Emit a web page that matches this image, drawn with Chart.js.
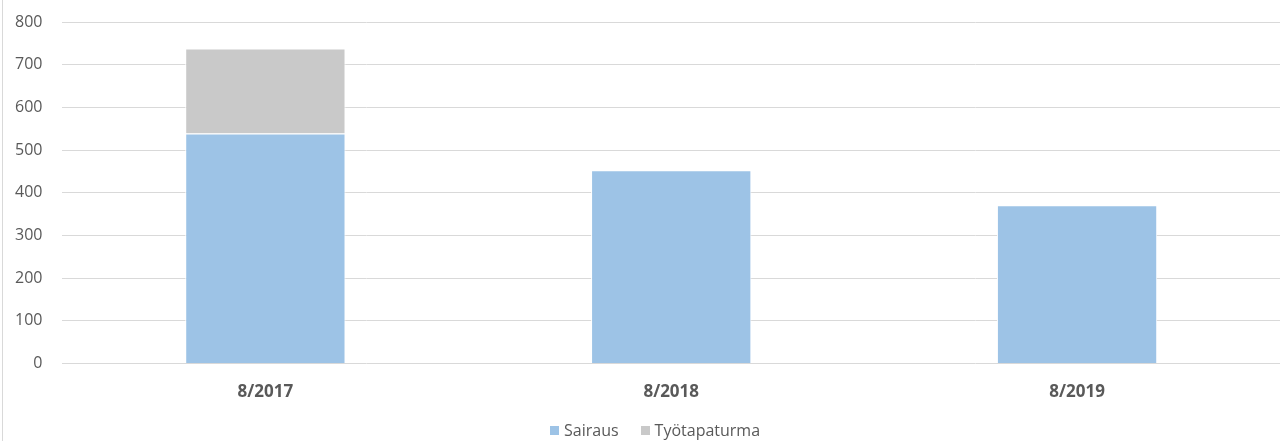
<!DOCTYPE html>
<html>
<head>
<meta charset="utf-8">
<script src="https://cdn.jsdelivr.net/npm/chart.js@4"></script>
<style>
  html, body { margin: 0; padding: 0; background: #fff; }
  #wrap { position: relative; width: 1280px; height: 441px; }
  #wrap::before { content: ""; position: absolute; left: 2px; top: 0; bottom: 0; border-left: 1px solid #d9d9d9; }
  #legend { position: absolute; left: 550px; top: 420px; height: 20px; display: flex; align-items: center;
            font-family: "Open Sans", "Noto Sans", sans-serif; font-size: 16px; color: #595959; }
  #legend .item { display: flex; align-items: center; margin-right: 22px; }
  #legend .box { width: 9px; height: 9px; margin-right: 5px; }
</style>
</head>
<body>
<div id="wrap"><canvas id="chart"></canvas><div id="legend"></div></div>
<script>
// chart values
const categories = ['8/2017', '8/2018', '8/2019'];
const sairaus = [539, 453, 371];
const tyotapaturma = [199, 0, 0];
const yTicks = [0, 100, 200, 300, 400, 500, 600, 700, 800];

const textColor = '#595959';
const fontFamily = '"Open Sans", "Noto Sans", sans-serif';

document.addEventListener('DOMContentLoaded', function() {
    const ctx = document.getElementById('chart').getContext('2d');

    const chart = new Chart(ctx, {
        type: 'bar',
        data: {
            labels: categories,
            datasets: [{
                label: 'Sairaus',
                data: sairaus,
                backgroundColor: '#9dc3e6',
                borderColor: '#ffffff',
                borderWidth: 1,
                barPercentage: 0.395,
                categoryPercentage: 1
            }, {
                label: 'Työtapaturma',
                data: tyotapaturma,
                backgroundColor: '#c9c9c9',
                borderColor: '#ffffff',
                borderWidth: 1,
                barPercentage: 0.395,
                categoryPercentage: 1
            }]
        },
        options: {
            responsive: true,
            maintainAspectRatio: false,
            animation: false,
            layout: { padding: { left: -5, right: 0, top: 22, bottom: 29 } },
            plugins: {
                tooltip: { enabled: false },
                legend: { display: false }
            },
            scales: {
                x: {
                    stacked: true,
                    grid: { display: false },
                    border: { display: false },
                    ticks: {
                        color: textColor,
                        padding: 10,
                        font: { family: fontFamily, size: 17, weight: 'bold' }
                    }
                },
                y: {
                    stacked: true,
                    min: 0,
                    max: 800,
                    afterBuildTicks: function(axis) {
                        axis.ticks = yTicks.map(v => ({ value: v }));
                    },
                    afterFit: function(axis) {
                        // keep the tick padding from pushing the plot down
                        axis.paddingTop = 0;
                        axis.paddingBottom = 0;
                    },
                    grid: { color: '#d9d9d9', drawTicks: false },
                    border: { display: false },
                    ticks: {
                        color: textColor,
                        padding: 20,
                        font: { family: fontFamily, size: 16 }
                    }
                }
            }
        }
    });

    // legend below the chart, built from the datasets
    const legend = document.getElementById('legend');
    chart.data.datasets.forEach(function(ds) {
        const item = document.createElement('span');
        item.className = 'item';
        const box = document.createElement('span');
        box.className = 'box';
        box.style.background = ds.backgroundColor;
        item.appendChild(box);
        item.appendChild(document.createTextNode(ds.label));
        legend.appendChild(item);
    });
});
</script>
</body>
</html>
